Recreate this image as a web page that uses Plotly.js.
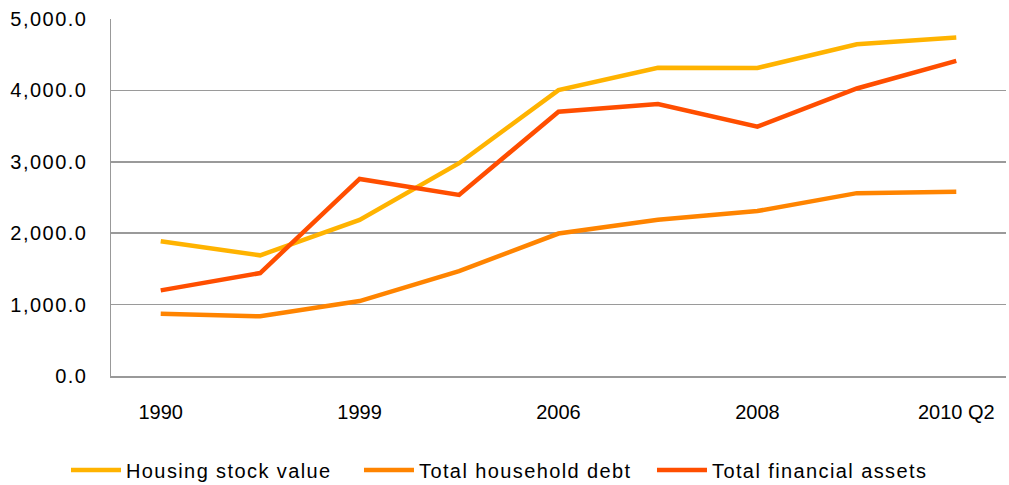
<!DOCTYPE html>
<html>
<head>
<meta charset="utf-8">
<script src="https://cdn.plot.ly/plotly-3.0.1.min.js"></script>
<style>
html,body{margin:0;padding:0;background:#fff;}
#chart{width:1009px;height:485px;}
#chart .legendtext{letter-spacing:1.4px;}
#chart .ytick text{letter-spacing:1.5px;}
</style>
</head>
<body>
<div id="chart"></div>
<script>
const categories = ["1990", "1995", "1999", "2003", "2006", "2007", "2008", "2009", "2010 Q2"];
const tickLabels = ["1990", "1999", "2006", "2008", "2010 Q2"];
const housingStockValue = [1888, 1690, 2185, 2980, 4004, 4318, 4314, 4647, 4740];
const totalHouseholdDebt = [873, 836, 1050, 1469, 1995, 2188, 2310, 2561, 2580];
const totalFinancialAssets = [1199, 1442, 2760, 2537, 3701, 3809, 3492, 4027, 4414];
const yTicks = [0, 1000, 2000, 3000, 4000, 5000];

const font = {family: "Liberation Sans, Arial, sans-serif", size: 20, color: "#000"};
const idx = categories.map((c, i) => i);

function series(name, y, color) {
  return {
    type: "scatter", mode: "lines", name: name,
    x: idx, y: y,
    line: {color: color, width: 4.5},
    hoverinfo: "skip"
  };
}

const data = [
  series("Housing stock value", housingStockValue, "#FFB300"),
  series("Total household debt", totalHouseholdDebt, "#FF8400"),
  series("Total financial assets", totalFinancialAssets, "#FF4E00")
];

const layout = {
  width: 1009, height: 485,
  margin: {l: 111, r: 3, t: 19, b: 109},
  paper_bgcolor: "#fff", plot_bgcolor: "#fff",
  font: font,
  showlegend: true,
  legend: {
    orientation: "h", xref: "container", x: 0.0654, xanchor: "left",
    yref: "container", y: 0.071, yanchor: "top",
    font: {family: font.family, size: 20, color: "#000"},
    entrywidth: 228, itemwidth: 50, traceorder: "normal"
  },
  xaxis: {
    range: [-0.5, categories.length - 0.5],
    tickvals: categories.map((c, i) => i).filter(i => i % 2 === 0),
    ticktext: tickLabels,
    showgrid: false, zeroline: false,
    showline: true, linecolor: "#999", linewidth: 1.5,
    ticks: "", ticklabelstandoff: 17,
    tickfont: font, fixedrange: true
  },
  yaxis: {
    range: [0, 5000],
    tickvals: yTicks,
    ticktext: yTicks.map(v => v.toLocaleString("en-US", {minimumFractionDigits: 1, maximumFractionDigits: 1})),
    showgrid: true, gridcolor: "#9a9a9a", gridwidth: 1.5,
    zeroline: false,
    showline: true, linecolor: "#999", linewidth: 1.5,
    ticks: "", ticklabelstandoff: 18,
    tickfont: font, fixedrange: true
  }
};

Plotly.newPlot("chart", data, layout, {displayModeBar: false, staticPlot: true});
</script>
</body>
</html>
